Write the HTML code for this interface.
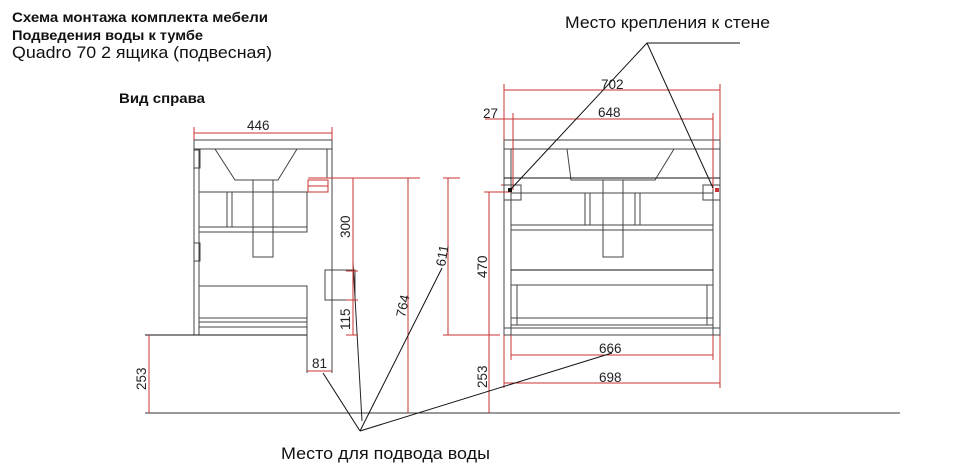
<!DOCTYPE html>
<html><head><meta charset="utf-8"><style>
html,body{margin:0;padding:0;background:#fff;}
svg{display:block;}
text{font-family:"Liberation Sans",Arial,sans-serif;}
</style></head><body>
<svg width="959" height="470" viewBox="0 0 959 470" xmlns="http://www.w3.org/2000/svg">
<g fill="#111">
<text x="12" y="22" font-weight="bold" font-size="14" textLength="256" lengthAdjust="spacingAndGlyphs">Схема монтажа комплекта мебели</text>
<text x="12" y="40" font-weight="bold" font-size="14" textLength="191" lengthAdjust="spacingAndGlyphs">Подведения воды к тумбе</text>
<text x="12" y="58" font-size="16.5" textLength="260" lengthAdjust="spacingAndGlyphs">Quadro 70 2 ящика (подвесная)</text>
<text x="119" y="103" font-weight="bold" font-size="14" textLength="86" lengthAdjust="spacingAndGlyphs">Вид справа</text>
<text x="565" y="28" font-size="17" textLength="205" lengthAdjust="spacingAndGlyphs">Место крепления к стене</text>
<text x="281" y="459" font-size="17" textLength="209" lengthAdjust="spacingAndGlyphs">Место для подвода воды</text>
</g>

<line x1="145" y1="413" x2="900" y2="413" stroke="#333" stroke-width="1"/>

<g stroke="#444" stroke-width="1" fill="none">
<rect x="194" y="140" width="138" height="9"/>
<line x1="194" y1="149" x2="194" y2="335"/>
<line x1="199" y1="149" x2="199" y2="335"/>
<line x1="332" y1="149" x2="332" y2="373"/>
<line x1="327" y1="149" x2="327" y2="178"/>
<polygon points="215,149 297,149 278,180 235,180"/>
<rect x="253" y="180" width="20" height="77"/>
<rect x="199" y="192" width="108" height="40"/>
<line x1="227" y1="192" x2="227" y2="227"/>
<line x1="232" y1="192" x2="232" y2="227"/>
<line x1="199" y1="227" x2="307" y2="227"/>
<rect x="199" y="286" width="108" height="41"/>
<line x1="199" y1="318" x2="307" y2="318"/>
<line x1="199" y1="322" x2="307" y2="322"/>
<line x1="145" y1="335" x2="307" y2="335" stroke="#111"/>
<line x1="307" y1="327" x2="307" y2="373"/>
<rect x="325" y="270" width="30" height="30"/>
<rect x="194" y="150" width="6" height="18"/>
<rect x="194" y="243" width="6" height="18"/>
<line x1="353" y1="262" x2="362" y2="421" stroke="#222"/>
</g>
<g stroke="#c83232" stroke-width="1" fill="none">
<line x1="194" y1="133" x2="332" y2="133"/>
<line x1="194" y1="127" x2="194" y2="140"/>
<line x1="332" y1="127" x2="332" y2="140"/>
<rect x="308" y="180" width="20" height="12"/>
<line x1="308" y1="186" x2="328" y2="186"/>
<line x1="308" y1="178" x2="420" y2="178"/>
<line x1="353" y1="178" x2="353" y2="335"/>
<line x1="346" y1="271" x2="358" y2="271"/>
<line x1="346" y1="300" x2="358" y2="300"/>
<line x1="346" y1="335" x2="358" y2="335"/>
<line x1="408" y1="178" x2="408" y2="413"/>
<line x1="443" y1="178" x2="460" y2="178"/>
<line x1="448" y1="178" x2="448" y2="335"/>
<line x1="443" y1="335" x2="500" y2="335"/>
<line x1="149" y1="335" x2="149" y2="413"/>
<line x1="307" y1="371" x2="332" y2="371"/>
<line x1="501" y1="185" x2="521" y2="185"/>
</g>
<g font-size="13.5" fill="#222">
<text x="247" y="130">446</text>
<text x="312" y="368">81</text>
<text transform="translate(350,238) rotate(-90)">300</text>
<text transform="translate(350,330) rotate(-90)">115</text>
<text transform="translate(405,318) rotate(-78)">764</text>
<text transform="translate(445,267) rotate(-80)">611</text>
<text transform="translate(146,390) rotate(-90)">253</text>
<text transform="translate(487,278) rotate(-90)">470</text>
<text transform="translate(487,388) rotate(-90)">253</text>
<text x="598" y="117">648</text>
<text x="601" y="89">702</text>
<text x="483" y="118">27</text>
<text x="599" y="353">666</text>
<text x="599" y="382">698</text>
</g>

<g stroke="#444" stroke-width="1" fill="none">
<rect x="504" y="140" width="216" height="9"/>
<line x1="504" y1="149" x2="504" y2="335"/>
<line x1="511" y1="149" x2="511" y2="335"/>
<line x1="713" y1="149" x2="713" y2="335"/>
<line x1="720" y1="149" x2="720" y2="335"/>
<polygon points="567,149 674,149 655,180 571,180"/>
<line x1="504" y1="178" x2="720" y2="178" stroke="#111"/>
<rect x="603" y="180" width="20" height="77"/>
<rect x="511" y="193" width="202" height="37"/>
<line x1="585" y1="193" x2="585" y2="225"/>
<line x1="590" y1="193" x2="590" y2="225"/>
<line x1="635" y1="193" x2="635" y2="225"/>
<line x1="640" y1="193" x2="640" y2="225"/>
<line x1="511" y1="225" x2="713" y2="225"/>
<line x1="511" y1="270" x2="713" y2="270" stroke="#111"/>
<rect x="511" y="285" width="202" height="40"/>
<line x1="517" y1="285" x2="517" y2="325"/>
<line x1="707" y1="285" x2="707" y2="325"/>
<line x1="511" y1="318" x2="713" y2="318"/>
<line x1="504" y1="328" x2="720" y2="328"/>
<line x1="504" y1="335" x2="720" y2="335"/>
<rect x="504" y="185" width="17" height="15"/>
<rect x="703" y="185" width="17" height="15"/>
</g>
<g stroke="#c83232" stroke-width="1" fill="none">
<line x1="504" y1="90" x2="720" y2="90"/>
<line x1="504" y1="84" x2="504" y2="140"/>
<line x1="720" y1="84" x2="720" y2="140"/>
<line x1="485" y1="119" x2="713" y2="119"/>
<line x1="513" y1="113" x2="513" y2="190"/>
<line x1="713" y1="113" x2="713" y2="190"/>
<line x1="511" y1="355" x2="713" y2="355"/>
<line x1="511" y1="335" x2="511" y2="360"/>
<line x1="713" y1="335" x2="713" y2="360"/>
<line x1="504" y1="383" x2="720" y2="383"/>
<line x1="504" y1="335" x2="504" y2="388"/>
<line x1="720" y1="335" x2="720" y2="388"/>
<line x1="489" y1="192" x2="489" y2="413"/>
<line x1="484" y1="192" x2="511" y2="192"/>
</g>
<rect x="508" y="188" width="4" height="4" fill="#111"/>
<rect x="715" y="188" width="4" height="4" fill="#c83232"/>

<g stroke="#111" stroke-width="1" fill="none">
<polyline points="510,190 647,43 740,43"/>
<line x1="647" y1="43" x2="713" y2="188"/>
<line x1="360" y1="431" x2="323" y2="373"/>
<line x1="360" y1="431" x2="442" y2="268"/>
<line x1="360" y1="431" x2="612" y2="353"/>
</g>
</svg>
</body></html>
